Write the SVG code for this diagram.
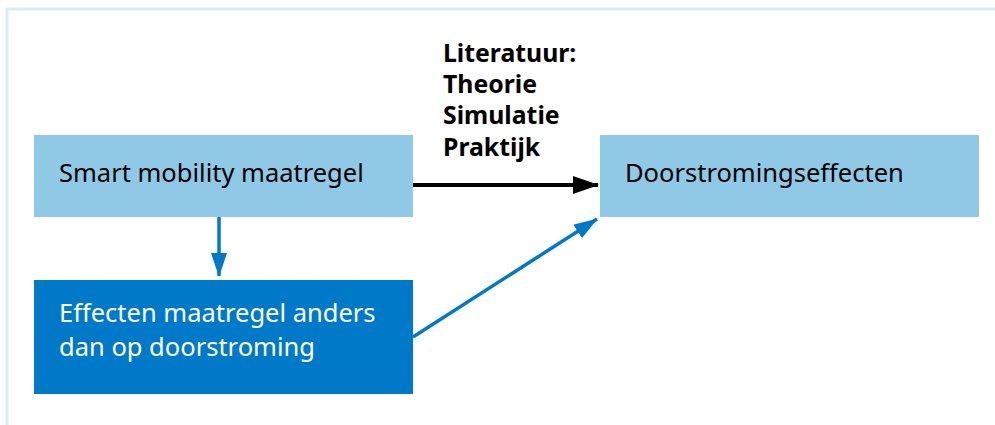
<svg xmlns="http://www.w3.org/2000/svg" width="995" height="425" viewBox="0 0 995 425">
<style>
.lbl{font-family:"Noto Sans","Open Sans",sans-serif;font-size:25.5px}
.lit{font-family:"Noto Sans","Open Sans",sans-serif;font-size:24.8px;font-weight:bold;fill:#000}
</style>
<defs>
<marker id="ab" markerWidth="26" markerHeight="18" refX="25" refY="9" markerUnits="userSpaceOnUse" orient="auto"><path d="M0,0 L26,9 L0,18 Z" fill="#000"/></marker>
<marker id="au" markerWidth="24" markerHeight="16" refX="23" refY="8" markerUnits="userSpaceOnUse" orient="auto"><path d="M0,0 L24,8 L0,16 Z" fill="#0079c8"/></marker>
</defs>
<rect width="995" height="425" fill="#fff"/>
<path d="M7,425 V9 H995" fill="none" stroke="#dcecf6" stroke-width="3"/>
<g id="n1"><rect x="34" y="135" width="379" height="82" fill="#8fc9e6"/><text class="lbl" x="59" y="182" fill="#000">Smart mobility maatregel</text></g>
<g id="n2"><rect x="34" y="280" width="379" height="114" fill="#0079c8"/><text class="lbl" x="59" y="322" fill="#fff">Effecten maatregel anders</text><text class="lbl" x="59" y="356" fill="#fff">dan op doorstroming</text></g>
<g id="n3"><rect x="600" y="135" width="379" height="82" fill="#8fc9e6"/><text class="lbl" x="625" y="182" fill="#000">Doorstromingseffecten</text></g>
<g id="lit"><text class="lit" x="443" y="62">Literatuur:</text><text class="lit" x="443" y="93">Theorie</text><text class="lit" x="443" y="124">Simulatie</text><text class="lit" x="443" y="156">Praktijk</text></g>
<g id="connectors">
<line x1="413" y1="185" x2="598" y2="185" stroke="#000" stroke-width="4" marker-end="url(#ab)"/>
<line x1="219" y1="217" x2="219" y2="276" stroke="#0079c8" stroke-width="3.5" marker-end="url(#au)"/>
<line x1="413" y1="337" x2="597" y2="219" stroke="#0079c8" stroke-width="3.5" marker-end="url(#au)"/>
</g>
</svg>
